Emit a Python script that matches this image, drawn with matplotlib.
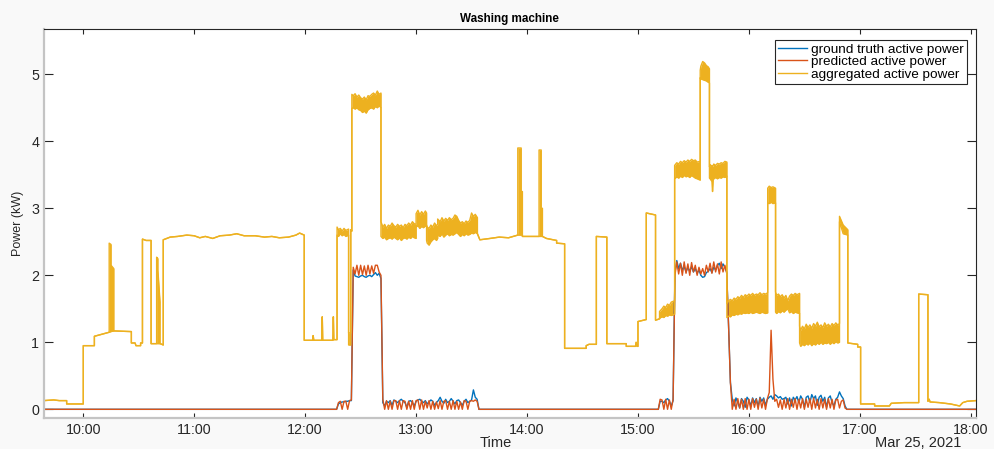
import matplotlib.pyplot as plt
import matplotlib.dates as mdates
import pandas as pd

plt.rcParams['font.family'] = ['Liberation Sans', 'DejaVu Sans']

day = "2021-03-25 "
x_start, x_end = "09:38:45", "18:02:40"

# aggregated active power (kW) as (time, lower, upper) of the trace;
# lower == upper where it is a single line, apart where it oscillates fast
agg_morning = [
    ("09:38:30", 0.13, 0.13), ("09:44", 0.14, 0.14), ("09:47", 0.13, 0.13), ("09:51", 0.13, 0.13),
    ("09:51", 0.08, 0.08), ("10:00", 0.08, 0.08), ("10:00", 0.95, 0.95), ("10:06", 0.95, 0.95),
    ("10:06", 1.09, 1.09), ("10:10", 1.12, 1.12), ("10:14", 1.15, 1.15), ("10:14", 1.15, 2.48),
    ("10:15", 1.16, 2.46), ("10:15", 1.16, 2.15), ("10:16:30", 1.17, 2.10), ("10:16:30", 1.17, 1.17),
    ("10:26", 1.16, 1.16), ("10:26", 0.99, 0.99), ("10:28", 0.99, 0.99), ("10:28:30", 0.95, 0.95),
    ("10:31", 0.95, 0.95), ("10:31", 0.99, 0.99), ("10:32", 0.99, 0.99), ("10:32", 2.54, 2.54),
    ("10:34", 2.52, 2.52), ("10:36:40", 2.52, 2.52), ("10:36:40", 0.98, 0.98), ("10:39:40", 0.98, 0.98),
    ("10:39:40", 0.98, 2.27), ("10:40:20", 0.98, 2.25), ("10:40:20", 0.98, 2.08), ("10:41:30", 0.98, 1.60),
    ("10:41:30", 0.98, 0.98), ("10:42:30", 0.97, 0.97), ("10:43:15", 0.96, 0.96), ("10:43:15", 2.53, 2.53),
    ("10:47", 2.57, 2.57), ("10:51", 2.58, 2.58), ("10:56", 2.60, 2.60), ("11:00", 2.59, 2.59),
    ("11:03", 2.56, 2.56), ("11:06", 2.58, 2.58), ("11:10", 2.55, 2.55), ("11:14", 2.59, 2.59),
    ("11:19", 2.60, 2.60), ("11:23", 2.62, 2.62), ("11:27", 2.59, 2.59), ("11:33", 2.59, 2.59),
    ("11:38", 2.57, 2.57), ("11:42", 2.58, 2.58), ("11:46", 2.56, 2.56), ("11:51", 2.57, 2.57),
    ("11:55", 2.60, 2.60), ("11:57", 2.63, 2.63), ("11:59:30", 2.60, 2.60),
]
agg_noon = [
    ("11:59:30", 1.03, 1.03), ("12:04", 1.03, 1.03), ("12:04:20", 1.10, 1.10), ("12:04:40", 1.03, 1.03),
    ("12:09", 1.03, 1.03), ("12:09:15", 1.38, 1.38), ("12:09:30", 1.03, 1.03), ("12:15", 1.03, 1.03),
    ("12:15:15", 1.38, 1.38), ("12:15:30", 1.04, 1.04), ("12:17:15", 1.04, 1.04),
    ("12:17:15", 2.60, 2.72), ("12:18", 2.58, 2.68), ("12:19", 2.62, 2.70), ("12:20", 2.59, 2.66),
    ("12:21", 2.61, 2.70), ("12:22", 2.58, 2.67), ("12:23:30", 2.60, 2.69),
    ("12:23:30", 0.96, 1.14), ("12:24:40", 0.96, 1.14), ("12:24:40", 2.68, 2.68), ("12:25:15", 2.66, 2.66),
    ("12:25:15", 4.49, 4.70), ("12:26", 4.50, 4.68), ("12:27", 4.48, 4.71), ("12:28", 4.50, 4.66),
    ("12:29", 4.47, 4.69), ("12:30", 4.46, 4.65), ("12:31", 4.43, 4.63), ("12:32", 4.45, 4.66),
    ("12:33", 4.42, 4.62), ("12:34", 4.47, 4.68), ("12:35", 4.49, 4.67), ("12:36", 4.50, 4.70),
    ("12:37", 4.48, 4.72), ("12:38", 4.52, 4.69), ("12:39", 4.50, 4.75), ("12:40", 4.53, 4.70),
    ("12:41", 4.50, 4.72),
    ("12:41", 2.58, 2.80), ("12:42", 2.55, 2.72), ("12:43", 2.57, 2.76), ("12:44", 2.53, 2.70),
    ("12:45", 2.55, 2.75), ("12:46", 2.56, 2.73), ("12:47", 2.54, 2.78), ("12:48", 2.57, 2.74),
    ("12:49", 2.55, 2.72), ("12:50", 2.53, 2.76), ("12:51", 2.56, 2.73), ("12:52", 2.52, 2.75),
    ("12:53", 2.55, 2.71), ("12:54", 2.56, 2.76), ("12:55", 2.54, 2.74), ("12:56", 2.57, 2.78),
    ("12:57", 2.55, 2.75), ("12:58", 2.58, 2.80), ("12:59", 2.56, 2.77), ("13:00", 2.55, 2.76),
    ("13:00", 2.72, 2.92), ("13:01", 2.74, 2.97), ("13:02", 2.70, 2.90), ("13:03", 2.73, 2.95),
    ("13:04", 2.71, 2.91), ("13:05", 2.74, 2.96), ("13:05:40", 2.72, 2.93),
    ("13:05:40", 2.52, 2.76), ("13:06", 2.48, 2.72), ("13:07", 2.45, 2.70), ("13:08", 2.50, 2.75),
    ("13:09", 2.53, 2.72), ("13:10", 2.55, 2.78), ("13:11", 2.52, 2.74), ("13:11:40", 2.55, 2.76),
    ("13:11:40", 2.60, 2.84), ("13:13", 2.58, 2.80), ("13:14", 2.62, 2.86), ("13:15", 2.57, 2.81),
    ("13:16", 2.60, 2.85), ("13:17", 2.62, 2.82), ("13:18", 2.59, 2.86), ("13:19", 2.61, 2.83),
    ("13:20", 2.60, 2.85), ("13:21", 2.62, 2.90), ("13:22", 2.64, 2.88), ("13:23", 2.61, 2.82),
    ("13:24", 2.58, 2.78), ("13:25", 2.61, 2.80), ("13:26", 2.59, 2.77), ("13:27", 2.62, 2.81),
    ("13:28", 2.60, 2.79), ("13:29", 2.61, 2.82), ("13:30", 2.63, 2.93), ("13:31", 2.62, 2.88),
    ("13:32", 2.64, 2.91), ("13:33:10", 2.62, 2.86),
]
agg_early_afternoon = [
    ("13:33:10", 2.62, 2.62), ("13:34:30", 2.53, 2.53), ("13:40", 2.55, 2.55), ("13:45", 2.57, 2.57),
    ("13:50", 2.56, 2.56), ("13:55", 2.60, 2.60), ("13:55", 2.60, 3.90), ("13:56:50", 2.60, 3.90),
    ("13:56:50", 2.60, 3.25), ("13:57:30", 2.60, 3.25), ("13:57:30", 2.58, 2.58), ("14:02", 2.58, 2.58),
    ("14:06:30", 2.58, 2.58), ("14:06:30", 2.58, 3.87), ("14:07:40", 2.58, 3.87), ("14:07:40", 2.58, 3.00),
    ("14:08:20", 2.58, 3.00), ("14:08:20", 2.58, 2.58), ("14:10:30", 2.55, 2.55), ("14:16", 2.52, 2.52),
    ("14:16", 2.48, 2.48), ("14:20:20", 2.47, 2.47), ("14:20:20", 0.91, 0.91), ("14:32", 0.91, 0.91),
    ("14:32", 0.95, 0.95), ("14:33:30", 0.97, 0.97), ("14:37:30", 0.97, 0.97), ("14:37:30", 2.58, 2.58),
    ("14:43:10", 2.57, 2.57), ("14:43:10", 0.98, 0.98), ("14:53:40", 0.98, 0.98), ("14:53:40", 0.94, 0.94),
    ("14:58:40", 0.94, 0.94), ("14:59", 1.00, 1.00), ("14:59:30", 0.94, 0.94), ("15:00", 0.94, 0.94),
    ("15:00", 1.31, 1.31), ("15:04:30", 1.34, 1.34), ("15:04:30", 2.93, 2.93), ("15:09:30", 2.90, 2.90),
    ("15:09:30", 1.33, 1.33), ("15:11:40", 1.35, 1.35),
    ("15:11:40", 1.36, 1.46), ("15:13", 1.38, 1.50), ("15:14", 1.37, 1.54), ("15:15", 1.40, 1.52),
    ("15:16", 1.39, 1.57), ("15:17", 1.41, 1.55), ("15:18", 1.40, 1.60), ("15:19:50", 1.42, 1.62),
]
agg_washing = [
    ("15:19:50", 3.44, 3.64), ("15:21", 3.47, 3.68), ("15:22", 3.45, 3.66), ("15:23", 3.48, 3.70),
    ("15:24", 3.46, 3.68), ("15:25", 3.49, 3.71), ("15:26", 3.47, 3.69), ("15:27", 3.48, 3.72),
    ("15:28", 3.46, 3.70), ("15:29", 3.49, 3.73), ("15:30", 3.47, 3.71), ("15:31", 3.45, 3.72),
    ("15:32", 3.44, 3.69), ("15:33:40", 3.42, 3.70),
    ("15:33:40", 4.95, 5.06), ("15:34", 4.93, 5.12), ("15:35", 4.92, 5.19), ("15:36", 4.91, 5.17),
    ("15:37", 4.90, 5.13), ("15:38", 4.88, 5.11), ("15:38:40", 4.87, 5.08),
    ("15:38:40", 3.45, 3.62), ("15:39", 3.44, 3.65), ("15:40", 3.40, 3.63), ("15:40:20", 3.25, 3.62),
    ("15:40:40", 3.42, 3.64), ("15:41", 3.44, 3.66), ("15:42", 3.46, 3.64), ("15:43", 3.44, 3.67),
    ("15:44", 3.46, 3.66), ("15:45", 3.45, 3.68), ("15:46", 3.47, 3.67), ("15:47", 3.46, 3.70),
    ("15:48:05", 3.48, 3.69),
    ("15:48:05", 1.37, 1.58), ("15:49", 1.39, 1.62), ("15:50", 1.38, 1.64), ("15:51", 1.41, 1.62),
    ("15:52", 1.40, 1.66), ("15:53", 1.42, 1.64), ("15:54", 1.41, 1.68), ("15:55", 1.43, 1.66),
    ("15:56", 1.42, 1.70), ("15:57", 1.44, 1.67), ("15:58", 1.43, 1.71), ("15:59", 1.44, 1.69),
    ("16:00", 1.43, 1.72), ("16:01", 1.45, 1.70), ("16:02", 1.43, 1.73), ("16:03", 1.44, 1.70),
    ("16:04", 1.45, 1.72), ("16:05", 1.44, 1.71), ("16:06", 1.43, 1.74), ("16:07", 1.45, 1.71),
    ("16:08", 1.44, 1.73), ("16:09", 1.43, 1.72), ("16:10:10", 1.44, 1.74),
    ("16:10:10", 3.08, 3.30), ("16:11", 3.07, 3.33), ("16:12", 3.09, 3.31), ("16:13", 3.07, 3.32),
    ("16:14:25", 3.08, 3.30),
    ("16:14:25", 1.45, 1.75), ("16:15", 1.43, 1.70), ("16:16", 1.46, 1.72), ("16:17", 1.44, 1.68),
    ("16:18", 1.47, 1.71), ("16:19", 1.45, 1.66), ("16:20", 1.48, 1.70), ("16:21", 1.50, 1.62),
    ("16:22", 1.44, 1.69), ("16:23", 1.46, 1.72), ("16:24", 1.43, 1.70), ("16:25", 1.45, 1.73),
    ("16:26", 1.44, 1.71), ("16:27:25", 1.43, 1.73),
    ("16:27:25", 0.99, 1.24), ("16:28", 0.94, 1.18), ("16:29", 0.97, 1.24), ("16:30", 0.95, 1.20),
    ("16:31", 0.98, 1.27), ("16:32", 0.96, 1.22), ("16:33", 0.99, 1.26), ("16:34", 0.95, 1.21),
    ("16:35", 0.98, 1.28), ("16:36", 0.96, 1.24), ("16:37", 0.99, 1.30), ("16:38", 0.97, 1.23),
    ("16:39", 1.00, 1.26), ("16:40", 0.97, 1.22), ("16:41", 0.99, 1.29), ("16:42", 0.98, 1.24),
    ("16:43", 1.00, 1.27), ("16:44", 0.97, 1.23), ("16:45", 1.00, 1.28), ("16:46", 0.98, 1.25),
    ("16:47", 1.01, 1.29), ("16:48", 0.99, 1.26), ("16:49", 1.00, 1.28),
    ("16:49", 2.80, 2.88), ("16:51", 2.62, 2.75), ("16:53:30", 2.60, 2.68),
]
agg_evening = [
    ("16:53:30", 0.99, 0.99), ("16:58:50", 0.97, 0.97), ("16:58:50", 0.93, 0.93), ("17:00:25", 0.93, 0.93),
    ("17:00:25", 0.08, 0.08), ("17:08", 0.08, 0.08), ("17:08", 0.05, 0.05), ("17:16", 0.05, 0.05),
    ("17:17", 0.09, 0.09), ("17:24", 0.10, 0.10), ("17:31:50", 0.10, 0.10), ("17:31:50", 1.72, 1.72),
    ("17:36:50", 1.71, 1.71), ("17:36:50", 0.12, 0.12), ("17:37:30", 0.15, 0.15), ("17:38", 0.11, 0.11),
    ("17:43", 0.10, 0.10), ("17:49", 0.08, 0.08), ("17:54", 0.05, 0.05), ("17:55:40", 0.10, 0.10),
    ("17:58", 0.12, 0.12), ("18:02:40", 0.13, 0.13),
]

# washing machine runs, one value per minute (kW)
run_a_start = "12:17"
gt_run_a = [0.00, 0.08, 0.10, 0.11, 0.11, 0.12, 0.12, 0.13, 0.13,
            2.08, 1.99, 1.98, 1.97, 1.99, 2.00, 1.98, 1.97, 1.99, 2.00, 1.98, 2.01, 2.04, 2.00, 2.03, 1.95,
            0.10, 0.05, 0.12, 0.10, 0.13, 0.06, 0.14, 0.12,
            0.10, 0.13, 0.15, 0.12, 0.10, 0.03, 0.12, 0.13, 0.10, 0.05,
            0.12, 0.14, 0.15, 0.12, 0.10, 0.13, 0.08, 0.11, 0.14, 0.12,
            0.06, 0.10, 0.13, 0.18, 0.12, 0.09, 0.15, 0.10, 0.12, 0.16,
            0.12, 0.08, 0.13, 0.14, 0.10, 0.06, 0.12, 0.15, 0.10, 0.12,
            0.14, 0.29, 0.18, 0.15, 0.00]
pred_run_a = [0.00, 0.10, 0.12, 0.00, 0.12, 0.12, 0.00, 0.13, 0.14,
              2.12, 2.02, 2.15, 2.00, 2.15, 2.01, 2.14, 2.00, 2.15, 2.02, 2.14, 2.03, 2.15, 2.15, 2.05, 2.00,
              0.15, 0.00, 0.13, 0.00, 0.12, 0.00, 0.13, 0.13,
              0.00, 0.13, 0.00, 0.13, 0.12, 0.00, 0.12, 0.00, 0.13, 0.00,
              0.13, 0.14, 0.00, 0.14, 0.00, 0.12, 0.02, 0.13, 0.00, 0.12,
              0.00, 0.11, 0.01, 0.13, 0.00, 0.12, 0.13, 0.00, 0.12, 0.00,
              0.13, 0.00, 0.12, 0.00, 0.11, 0.00, 0.13, 0.12, 0.00, 0.12,
              0.13, 0.12, 0.14, 0.12, 0.00]

run_b_start = "15:11"
gt_run_b = [0.00, 0.12, 0.12, 0.10, 0.14, 0.16, 0.12, 0.05, 0.13,
            2.05, 2.22, 2.10, 2.18, 2.08, 2.13, 2.05, 2.12, 2.06, 2.13, 2.05, 2.10, 2.03, 2.08, 2.00,
            1.97, 1.98, 2.04, 2.06, 2.10, 2.04, 2.12, 2.08, 2.15, 2.18, 2.10, 2.17, 2.12, 2.05,
            1.25, 0.40,
            0.15, 0.05, 0.17, 0.10, 0.02, 0.16, 0.12, 0.03, 0.18,
            0.14, 0.05, 0.17, 0.10, 0.16, 0.04, 0.18, 0.12, 0.17, 0.06,
            0.15, 0.18, 0.20, 0.15, 0.22, 0.20, 0.17, 0.19, 0.15, 0.16,
            0.18, 0.08, 0.17, 0.05, 0.18, 0.14, 0.19, 0.10, 0.20, 0.15,
            0.03, 0.18, 0.20, 0.10, 0.22, 0.16, 0.20, 0.06, 0.18, 0.21,
            0.12, 0.18, 0.03, 0.17, 0.20, 0.10, 0.05, 0.15, 0.18, 0.26,
            0.20, 0.16, 0.05, 0.00]
pred_run_b = [0.00, 0.15, 0.14, 0.00, 0.15, 0.00, 0.14, 0.00, 0.15,
              2.00, 2.20, 2.02, 2.18, 2.00, 2.20, 2.03, 2.17, 2.00, 2.19, 2.05, 2.15, 2.00, 2.12, 2.02,
              2.10, 2.00, 2.15, 2.05, 2.18, 2.03, 2.20, 2.05, 2.17, 2.02, 2.20, 2.05, 2.15, 2.03,
              1.25, 0.40,
              0.00, 0.15, 0.00, 0.16, 0.02, 0.15, 0.00, 0.16, 0.00,
              0.15, 0.00, 0.16, 0.03, 0.15, 0.00, 0.17, 0.02, 0.15, 0.00,
              0.16, 0.25, 1.18, 0.45, 0.12, 0.15, 0.03, 0.14, 0.00, 0.15,
              0.02, 0.16, 0.00, 0.15, 0.03, 0.16, 0.00, 0.15, 0.02, 0.16,
              0.00, 0.15, 0.03, 0.16, 0.00, 0.17, 0.02, 0.15, 0.00, 0.16,
              0.02, 0.15, 0.00, 0.16, 0.02, 0.15, 0.00, 0.14, 0.15, 0.02,
              0.12, 0.14, 0.02, 0.00]

blue, red, yellow = '#0072BD', '#D95319', '#EDB120'
ink = '#262626'


def to_dt(times):
    return pd.to_datetime([day + t for t in times], format="mixed")


def full_series(runs):
    # zero outside the runs
    t = [to_dt([x_start])[0]]
    v = [0.0]
    for start, vals in runs:
        t += list(pd.date_range(day + start, periods=len(vals), freq="min"))
        v += vals
    t.append(to_dt([x_end])[0])
    v.append(0.0)
    return t, v


gt_t, gt_v = full_series([(run_a_start, gt_run_a), (run_b_start, gt_run_b)])
pr_t, pr_v = full_series([(run_a_start, pred_run_a), (run_b_start, pred_run_b)])

agg_rows = agg_morning + agg_noon + agg_early_afternoon + agg_washing + agg_evening
agg_t = to_dt([r[0] for r in agg_rows])
agg_lo = [r[1] for r in agg_rows]
agg_hi = [r[2] for r in agg_rows]

fig = plt.figure(figsize=(9.94, 4.49), dpi=100, facecolor='#f9f9f9')
ax = fig.add_axes([44 / 994, 31.3 / 449, 931.7 / 994, 389 / 449])

ax.plot(gt_t, gt_v, color=blue, lw=1.0, label='ground truth active power')
ax.plot(pr_t, pr_v, color=red, lw=1.0, label='predicted active power')
ax.fill_between(agg_t, agg_lo, agg_hi, color=yellow, lw=0)
ax.plot(agg_t, agg_lo, color=yellow, lw=1.0)
ax.plot(agg_t, agg_hi, color=yellow, lw=1.0, label='aggregated active power')

ax.set_xlim(to_dt([x_start])[0], to_dt([x_end])[0])
ax.set_ylim(-0.125, 5.68)
ax.set_yticks([0, 1, 2, 3, 4, 5])
ax.xaxis.set_major_locator(mdates.HourLocator())
ax.xaxis.set_major_formatter(mdates.DateFormatter('%H:%M'))

ax.tick_params(axis='both', direction='in', top=True, right=True, colors=ink,
               labelsize=10.3, pad=3.5, width=0.8)
ax.tick_params(axis='x', length=3.6)
ax.tick_params(axis='y', length=6.5)
for side in ['left', 'bottom']:
    ax.spines[side].set_color('#c4c4c4')
    ax.spines[side].set_linewidth(1.6)
for side in ['top', 'right']:
    ax.spines[side].set_color(ink)
    ax.spines[side].set_linewidth(0.8)

ax.set_title('Washing machine', fontsize=8.4, fontweight='bold', pad=5)
ax.set_ylabel('Power (kW)', fontsize=9, color=ink, va='center')
ax.yaxis.set_label_coords(-0.0276, 0.5)
ax.set_xlabel('Time', fontsize=10.5, color=ink, va='center')
ax.xaxis.set_label_coords(0.485, -0.064)
fig.text(918 / 994, 1 - 443 / 449, 'Mar 25, 2021', fontsize=10.5, color=ink,
         ha='center', va='center')

leg = ax.legend(loc='upper right', bbox_to_anchor=(0.9903, 0.971), borderaxespad=0,
                fontsize=9.7, fancybox=False, framealpha=1, edgecolor=ink,
                labelspacing=0.0, borderpad=0.25, handlelength=2.1, handletextpad=0.3)
leg.get_frame().set_linewidth(0.8)

fig.savefig('out.png', dpi=100, facecolor=fig.get_facecolor())
